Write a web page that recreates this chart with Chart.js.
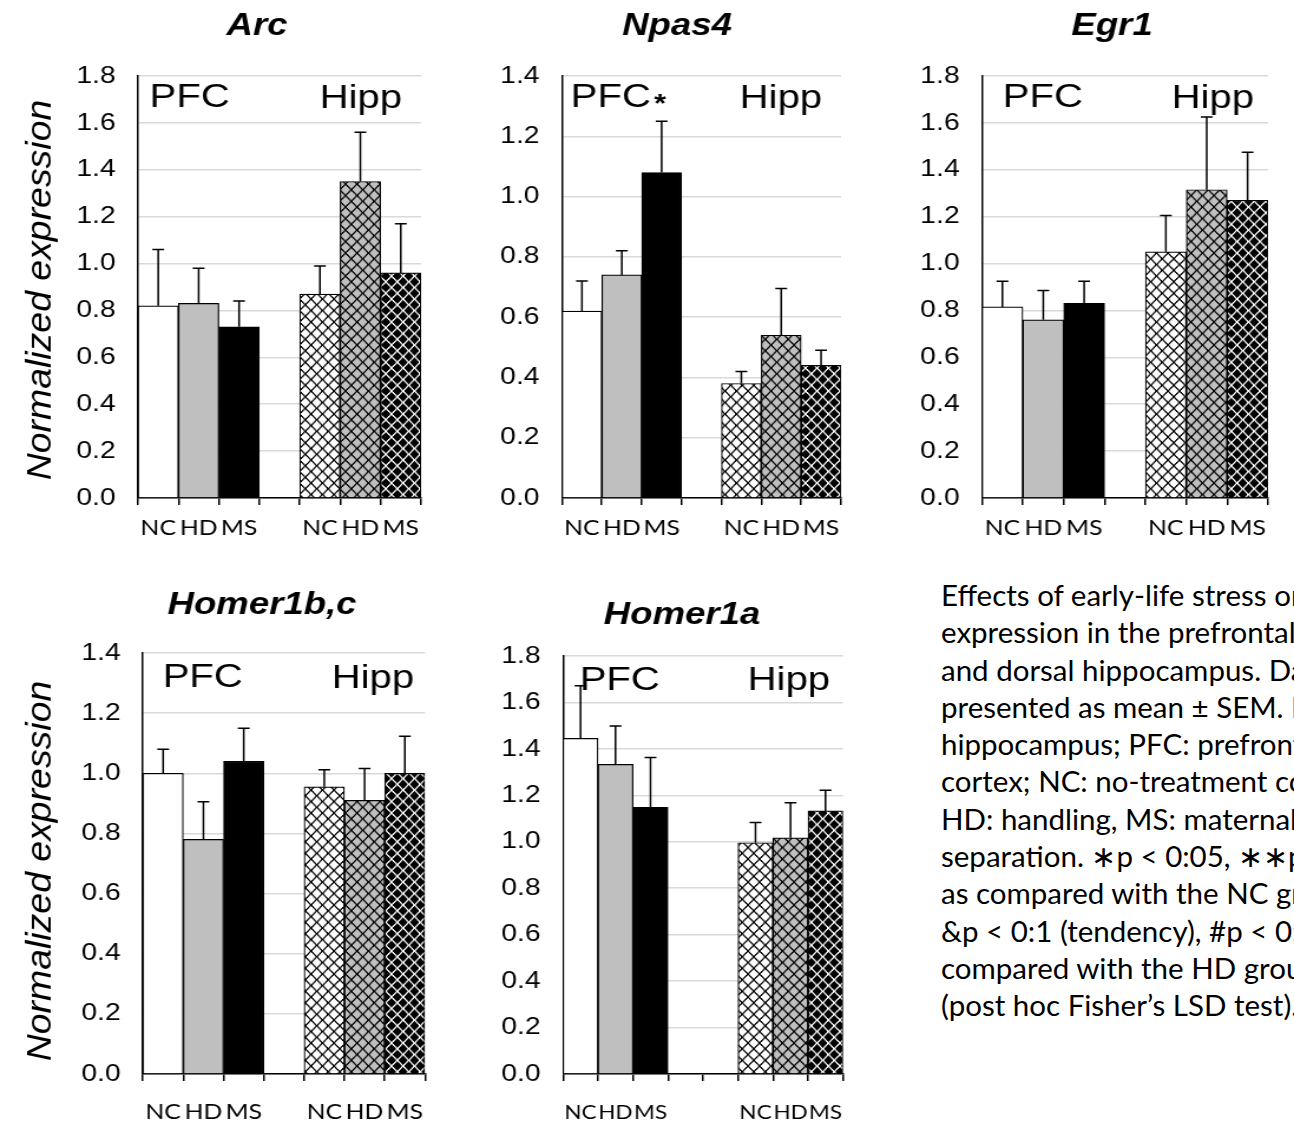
<!DOCTYPE html>
<html>
<head>
<meta charset="utf-8">
<script src="https://cdn.jsdelivr.net/npm/chart.js@4.4.0/dist/chart.umd.min.js"></script>
<style>
html, body { margin: 0; padding: 0; background: #fff; }
body { width: 1294px; height: 1132px; position: relative; overflow: hidden; }
canvas { position: absolute; }
#caption {
	position: absolute; left: 941px; top: 576px;
	font-family: Lato, "Open Sans", sans-serif; font-size: 29.5px; line-height: 37.3px;
	white-space: nowrap; color: #000;
}
</style>
</head>
<body>
<div id="caption">
Effects of early-life stress on gene<br>
expression in the prefrontal cortex<br>
and dorsal hippocampus. Data are<br>
presented as mean ± SEM. Hipp:<br>
hippocampus; PFC: prefrontal<br>
cortex; NC: no-treatment control;<br>
HD: handling, MS: maternal<br>
separation. ∗p &lt; 0:05, ∗∗p &lt; 0:01<br>
as compared with the NC group;<br>
&amp;p &lt; 0:1 (tendency), #p &lt; 0:05 as<br>
compared with the HD group<br>
(post hoc Fisher’s LSD test).
</div>
<script>
// categories (empty slot = gap between PFC and Hipp)
const labels7 = ['NC', 'HD', 'MS', '', 'NC', 'HD', 'MS'];
const labels8 = ['NC', 'HD', 'MS', '', '', 'NC', 'HD', 'MS'];

// mean and SEM
const arcMean = [0.82, 0.83, 0.73, null, 0.87, 1.35, 0.96];
const arcSem = [0.24, 0.15, 0.11, null, 0.12, 0.21, 0.21];

const npas4Mean = [0.62, 0.74, 1.08, null, 0.38, 0.54, 0.44];
const npas4Sem = [0.10, 0.08, 0.17, null, 0.04, 0.155, 0.05];

const egr1Mean = [0.815, 0.76, 0.83, null, 1.05, 1.315, 1.27];
const egr1Sem = [0.11, 0.125, 0.095, null, 0.155, 0.31, 0.205];

const homer1bcMean = [1.00, 0.78, 1.04, null, 0.955, 0.91, 1.00];
const homer1bcSem = [0.08, 0.125, 0.11, null, 0.057, 0.106, 0.123];

const homer1aMean = [1.445, 1.333, 1.148, null, null, 0.996, 1.017, 1.133];
const homer1aSem = [0.227, 0.166, 0.215, null, null, 0.087, 0.151, 0.089];

// axis maxima (ticks every 0.2)
const arcMax = 1.8, npas4Max = 1.4, egr1Max = 1.8, homer1bcMax = 1.4, homer1aMax = 1.8;
const tickStep = 0.2;

const S = 1.18; // the chart panels are stretched horizontally

function makeTile(bg, fg) {
	const P = 12;
	const t = document.createElement('canvas');
	t.width = P; t.height = P;
	const c = t.getContext('2d');
	c.fillStyle = bg; c.fillRect(0, 0, P, P);
	c.fillStyle = fg;
	for (let i = 0; i < P; i++) {
		for (let d = 0; d < 2; d++) {
			c.fillRect((i + d) % P, i, 1, 1);
			c.fillRect((P - 1 - i + d + P) % P, i, 1, 1);
		}
	}
	return t;
}

function addChart(o) {
	const cv = document.createElement('canvas');
	const wInt = Math.round(o.w / S);
	const sx = o.w / wInt;
	cv.width = wInt; cv.height = o.h;
	cv.style.left = o.left + 'px'; cv.style.top = o.top + 'px';
	cv.style.width = o.w + 'px'; cv.style.height = o.h + 'px';
	document.body.appendChild(cv);

	const ix = X => (X - o.left) / sx;
	const iy = Y => Y - o.top;
	const xh = 50;
	const ctx = cv.getContext('2d');

	const k = 11.5 / 12;
	const pats = [['#fff', '#000'], ['#bfbfbf', '#000'], ['#000', '#fff']].map(([bg, fg]) => {
		const p = ctx.createPattern(makeTile(bg, fg), 'repeat');
		p.setTransform(new DOMMatrix().scale(k / sx, k));
		return p;
	});
	const solid = ['#fff', '#bfbfbf', '#000'];
	let n = 0;
	const fills = o.labels.map((l, i) => {
		if (l === '') return 'rgba(0,0,0,0)';
		const isHipp = i > o.labels.indexOf('');
		return isHipp ? pats[(n++) % 3] : solid[i % 3];
	});

	const errorBars = {
		id: 'errorBars',
		afterDatasetsDraw(chart) {
			const c = chart.ctx, ys = chart.scales.y;
			const meta = chart.getDatasetMeta(0);
			c.save();
			c.strokeStyle = '#000';
			c.lineWidth = 1.5;
			o.mean.forEach((m, i) => {
				if (m == null) return;
				const x = meta.data[i].x;
				const y0 = ys.getPixelForValue(m);
				const y1 = ys.getPixelForValue(m + o.sem[i]);
				c.beginPath();
				c.moveTo(x, y0); c.lineTo(x, y1);
				c.moveTo(x - 5, y1); c.lineTo(x + 5, y1);
				c.stroke();
			});
			c.restore();
		}
	};

	const texts = {
		id: 'texts',
		afterDraw(chart) {
			const c = chart.ctx;
			c.save();
			c.fillStyle = '#000';
			c.textBaseline = 'alphabetic';
			c.font = 'italic bold 31px "Liberation Sans", Arial';
			c.textAlign = 'center';
			c.fillText(o.title, ix(o.titleX), iy(o.titleY));
			c.font = '34px "Liberation Sans", Arial';
			c.textAlign = 'left';
			c.fillText('PFC', ix(o.pfc[0]) - 2, iy(o.pfc[1]));
			c.fillText('Hipp', ix(o.hipp[0]) - 2, iy(o.hipp[1]));
			if (o.star) {
				c.font = 'bold 26px "Liberation Sans", Arial';
				c.textAlign = 'center';
				c.fillText('*', ix(o.star[0]), iy(o.star[1]));
			}
			if (o.yTitle) {
				c.translate(ix(o.yTitle[0]), iy(o.yTitle[1]));
				c.rotate(-Math.PI / 2);
				c.scale(1.29, 1);
				c.font = 'italic 29px "Liberation Sans", Arial';
				c.textAlign = 'center';
				c.textBaseline = 'middle';
				c.fillText('Normalized expression', 0, 0);
			}
			c.restore();
		}
	};

	new Chart(cv, {
		type: 'bar',
		data: {
			labels: o.labels,
			datasets: [{
				data: o.mean,
				backgroundColor: fills,
				borderColor: '#000',
				borderWidth: 1.2,
				barPercentage: 1,
				categoryPercentage: 1
			}]
		},
		options: {
			responsive: false,
			animation: false,
			devicePixelRatio: 1,
			layout: {
				padding: {
					left: 0,
					top: iy(o.plotT),
					right: wInt - ix(o.plotR),
					bottom: o.h - iy(o.plotB) - xh
				}
			},
			plugins: { legend: { display: false }, tooltip: { enabled: false } },
			scales: {
				x: {
					ticks: {
						color: '#000', autoSkip: false, maxRotation: 0, padding: o.xPad,
						font: { family: 'Lato', size: o.xFont }
					},
					grid: {
						display: true, drawOnChartArea: false, drawTicks: true, tickLength: 7,
						color: '#000', lineWidth: 1.5, offset: true
					},
					border: { color: '#000', width: 1.5 },
					afterFit: s => { s.height = xh; }
				},
				y: {
					min: 0, max: o.yMax,
					ticks: {
						stepSize: tickStep, padding: 19, color: '#000',
						font: { family: '"Liberation Sans", Arial', size: 24 },
						callback: v => v.toFixed(1)
					},
					grid: { color: '#d9d9d9', lineWidth: 1.5, drawTicks: false },
					border: { color: '#000', width: 1.5 },
					afterFit: s => { s.width = ix(o.plotL); }
				}
			}
		},
		plugins: [errorBars, texts]
	});
}

addChart({
	left: 0, top: 0, w: 460, h: 560,
	plotL: 138, plotR: 421, plotT: 76, plotB: 498, xPad: 11, xFont: 21,
	labels: labels7, mean: arcMean, sem: arcSem, yMax: arcMax,
	title: 'Arc', titleX: 257, titleY: 35,
	pfc: [152, 107], hipp: [322, 108], yTitle: [41, 290]
});
addChart({
	left: 460, top: 0, w: 420, h: 560,
	plotL: 562, plotR: 841, plotT: 76, plotB: 498, xPad: 11, xFont: 21,
	labels: labels7, mean: npas4Mean, sem: npas4Sem, yMax: npas4Max,
	title: 'Npas4', titleX: 677, titleY: 35,
	pfc: [573, 107], hipp: [742, 108], star: [660, 112]
});
addChart({
	left: 880, top: 0, w: 414, h: 560,
	plotL: 982, plotR: 1268, plotT: 76, plotB: 498, xPad: 11, xFont: 21,
	labels: labels7, mean: egr1Mean, sem: egr1Sem, yMax: egr1Max,
	title: 'Egr1', titleX: 1112, titleY: 35,
	pfc: [1005, 107], hipp: [1174, 108]
});
addChart({
	left: 0, top: 560, w: 460, h: 572,
	plotL: 143, plotR: 425, plotT: 653, plotB: 1074, xPad: 19, xFont: 21,
	labels: labels7, mean: homer1bcMean, sem: homer1bcSem, yMax: homer1bcMax,
	title: 'Homer1b,c', titleX: 262, titleY: 614,
	pfc: [165, 687], hipp: [334, 688], yTitle: [41, 871]
});
addChart({
	left: 460, top: 560, w: 420, h: 572,
	plotL: 563, plotR: 843, plotT: 656, plotB: 1074, xPad: 20, xFont: 19,
	labels: labels8, mean: homer1aMean, sem: homer1aSem, yMax: homer1aMax,
	title: 'Homer1a', titleX: 682, titleY: 624,
	pfc: [582, 690], hipp: [750, 690]
});
</script>
</body>
</html>
